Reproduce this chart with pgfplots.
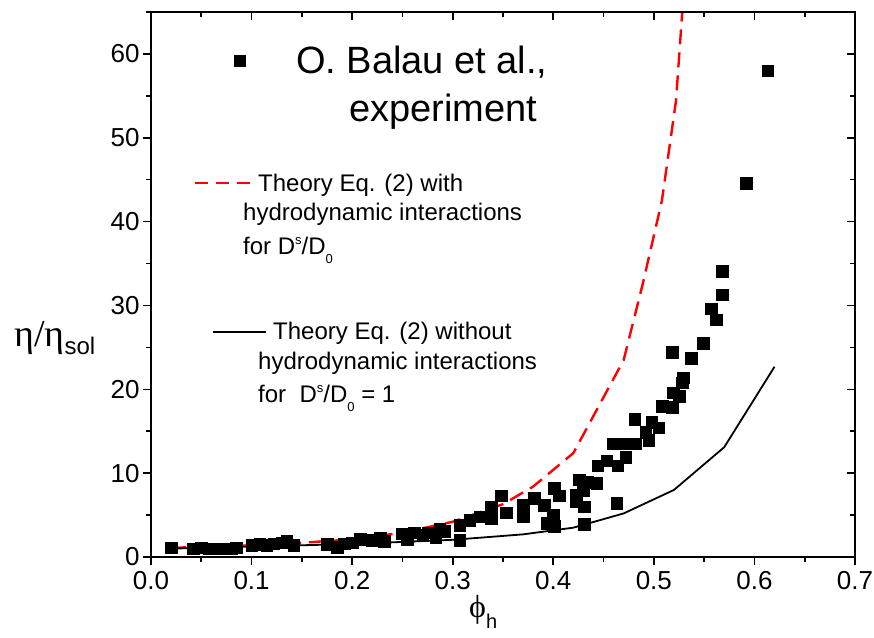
\documentclass[border=0pt]{standalone}
\usepackage{fontspec}
\setmainfont{Liberation Sans}
\newfontfamily\greekserif{Liberation Serif}
\usepackage{pgfplots}
\pgfplotsset{compat=1.18}

% viscosity data: phi_h, eta/eta_sol
\pgfplotstableread{
x      y
0.020  1.1
0.042  1.0
0.050  1.1
0.058  1.0
0.070  1.0
0.080  1.0
0.085  1.1
0.100  1.4
0.108  1.5
0.115  1.4
0.122  1.6
0.130  1.7
0.135  1.9
0.142  1.4
0.175  1.5
0.185  1.2
0.192  1.6
0.200  1.7
0.208  2.1
0.220  2.0
0.228  2.3
0.232  1.9
0.250  2.8
0.255  2.1
0.262  2.9
0.270  2.6
0.275  2.9
0.283  2.3
0.287  3.3
0.292  3.1
0.307  2.0
0.307  3.8
0.317  4.4
0.327  4.8
0.338  4.6
0.338  6.0
0.348  7.3
0.353  5.3
0.370  6.2
0.370  4.8
0.381  7.0
0.391  6.2
0.394  4.0
0.400  5.0
0.401  3.7
0.401  8.2
0.406  7.3
0.423  7.4
0.423  6.6
0.426  9.2
0.430  8.0
0.431  6.0
0.431  3.9
0.434  8.9
0.443  8.8
0.444  10.9
0.453  11.5
0.459  13.5
0.463  6.4
0.464  10.9
0.471  13.5
0.472  11.9
0.481  16.4
0.482  13.5
0.492  14.9
0.495  13.9
0.498  16.1
0.505  15.4
0.508  18.0
0.518  17.9
0.518  24.4
0.519  19.6
0.525  19.2
0.528  20.8
0.529  21.4
0.537  23.7
0.549  25.5
0.557  29.6
0.562  28.3
0.568  31.3
0.568  34.1
0.592  44.6
0.613  58.0
}\experiment

% theory with hydrodynamic interactions
\pgfplotstableread{
x      y
0.020  1.1
0.050  1.2
0.100  1.4
0.150  1.7
0.200  2.1
0.250  2.9
0.300  4.2
0.350  6.3
0.380  8.4
0.420  12.4
0.470  23.5
0.489  32.6
0.508  42.5
0.522  54.4
0.530  68.0
}\theoryHI

% theory without hydrodynamic interactions
\pgfplotstableread{
x      y
0.020  1.0
0.100  1.25
0.200  1.55
0.300  2.05
0.370  2.7
0.420  3.5
0.470  5.2
0.520  8.0
0.570  13.1
0.620  22.7
}\theoryNoHI

\pgfplotsset{
  frame/.style={
    at={(0,0)}, anchor=south west,
    scale only axis, width=704pt, height=545pt,
    xmin=0, xmax=0.7, ymin=0, ymax=65,
    xtick={0,0.1,0.2,0.3,0.4,0.5,0.6,0.7},
    minor xtick={0.05,0.15,0.25,0.35,0.45,0.55,0.65},
    ytick={0,10,20,30,40,50,60},
    minor ytick={5,15,25,35,45,55,65},
    axis line style={line width=1.8pt},
    major tick length=8pt, minor tick length=5pt,
    every tick/.style={black, line width=1.6pt},
  }
}

\begin{document}
\begin{tikzpicture}
\begin{axis}[
  frame, name=main,
  xtick pos=left, ytick pos=left, tick align=outside,
  /pgf/number format/assume math mode=true,
  tick label style={font=\fontsize{26}{26}\selectfont},
  xticklabel style={yshift=-3pt, /pgf/number format/fixed, /pgf/number format/precision=1,
    /pgf/number format/fixed zerofill},
]
\addplot[red, line width=2.4pt, dash pattern=on 15pt off 8pt] table {\theoryHI};
\addplot[black, line width=1.8pt] table {\theoryNoHI};
\addplot[only marks, mark=square*, mark size=5.8pt, black] table {\experiment};
\end{axis}
\begin{axis}[
  frame,
  xtick pos=right, ytick pos=right, tick align=inside,
  xticklabels={}, yticklabels={},
]
\end{axis}

\begin{scope}[shift={(main.south west)}]
  % legend keys and texts
  \fill (83pt,490pt) rectangle (95pt,502pt);
  \node[anchor=base west, inner sep=0pt, font=\fontsize{38}{38}\selectfont] at (145pt,483pt) {O. Balau et al.,};
  \node[anchor=base west, inner sep=0pt, font=\fontsize{38}{38}\selectfont] at (198pt,435pt) {experiment};

  \draw[red, line width=2.4pt, dash pattern=on 13pt off 8pt] (44pt,374pt) -- (99pt,374pt);
  \node[anchor=base west, inner sep=0pt, font=\fontsize{24}{24}\selectfont] at (107pt,365pt) {Theory Eq. (2) with};
  \node[anchor=base west, inner sep=0pt, font=\fontsize{24}{24}\selectfont] at (92pt,336pt) {hydrodynamic interactions};
  \node[anchor=base west, inner sep=0pt, font=\fontsize{24}{24}\selectfont] at (92pt,302pt)
    {for D\raisebox{10pt}{\fontsize{13}{13}\selectfont s}/D\raisebox{-9pt}{\fontsize{13}{13}\selectfont 0}};

  \draw[black, line width=1.8pt] (62pt,225pt) -- (115pt,225pt);
  \node[anchor=base west, inner sep=0pt, font=\fontsize{24}{24}\selectfont] at (122pt,217pt) {Theory Eq. (2) without};
  \node[anchor=base west, inner sep=0pt, font=\fontsize{24}{24}\selectfont] at (107pt,187pt) {hydrodynamic interactions};
  \node[anchor=base west, inner sep=0pt, font=\fontsize{24}{24}\selectfont] at (107pt,154pt)
    {for\ \ D\raisebox{10pt}{\fontsize{13}{13}\selectfont s}/D\raisebox{-9pt}{\fontsize{13}{13}\selectfont 0} = 1};

  % axis titles
  \node[anchor=base west, inner sep=0pt] at (-137pt,210pt)
    {{\greekserif\fontsize{38}{38}\selectfont η/η}\raisebox{-8pt}{\fontsize{24}{24}\selectfont sol}};
  \node[anchor=base west, inner sep=0pt] at (318pt,-60pt)
    {{\greekserif\fontsize{32}{32}\selectfont ϕ}\raisebox{-11pt}{\fontsize{20}{20}\selectfont h}};

  \pgfresetboundingbox
  \path[use as bounding box] (-151pt,-80pt) rectangle (723pt,557pt);
\end{scope}
\end{tikzpicture}
\end{document}
